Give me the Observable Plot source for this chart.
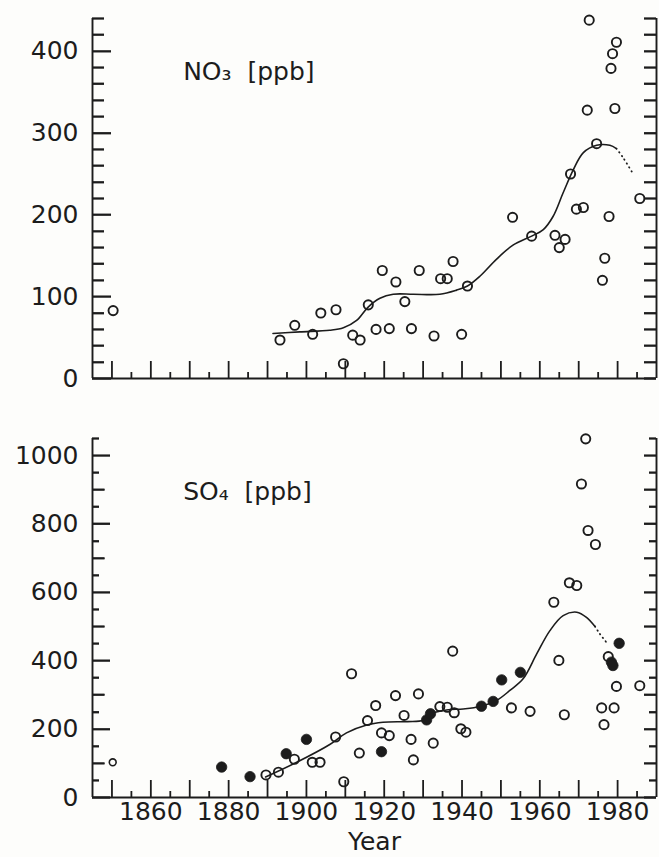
<!DOCTYPE html>
<html><head><meta charset="utf-8">
<script src="https://cdn.jsdelivr.net/npm/d3@7"></script>
<script src="https://cdn.jsdelivr.net/npm/@observablehq/plot@0.6"></script>
<style>
body{margin:0;background:#fdfdfb;}
#chart{width:659px;}
#chart svg{display:block;}
</style>
</head><body><div id="chart"></div>
<script>
// ---------- NO3 panel ----------
const no3Years  = [1850.3,1893.2,1897,1901.6,1903.7,1907.6,1909.5,1911.9,1913.8,1915.9,1917.9,1919.5,1921.3,1923,1925.3,1927,1929,1932.8,1934.5,1936.2,1937.7,1939.9,1941.4,1953,1957.9,1963.9,1965,1966.5,1967.9,1969.4,1971.2,1972.7,1972.2,1974.6,1976.1,1976.7,1977.8,1978.3,1978.7,1979.7,1979.3,1985.7];
const no3Values = [83,47,65,54,80,84,18,53,47,90,60,132,61,118,94,61,132,52,122,122,143,54,113,197,174,175,160,170,250,207,209,438,328,287,120,147,198,379,397,411,330,220];
const no3CurveYears  = [1891.4,1898.3,1906,1909.5,1912.9,1915.8,1918.9,1922.3,1927.5,1934.3,1938.6,1941.4,1944.6,1948.9,1953.1,1957.9,1960.9,1963.4,1966,1968.6,1971.2,1974.6,1978,1979.7];
const no3CurveValues = [55,57,59,62,71,87,98,103,103,103,108,113,125,146,163,174,182,198,227,255,276,285,285,281];
const no3DotYears  = [1979.7,1981.4,1984];
const no3DotValues = [281,270,250];
const no3TickLabels = [0,100,200,300,400];
const no3MinorTicks = [20,40,60,80,120,140,160,180,220,240,260,280,320,340,360,380,420,440];
const no3AllTicks   = [0,20,40,60,80,100,120,140,160,180,200,220,240,260,280,300,320,340,360,380,400,420,440];
const no3Title = ["NO\u2083  [ppb]"];

// ---------- SO4 panel ----------
const so4OpenYears  = [1889.6,1892.8,1896.9,1901.5,1903.5,1907.5,1909.6,1911.6,1913.6,1915.7,1917.8,1919.3,1921.3,1922.9,1925.1,1926.9,1927.5,1928.8,1932.6,1934.3,1936.2,1937.6,1938,1939.7,1941,1952.7,1957.5,1963.6,1964.9,1966.3,1967.6,1969.5,1970.7,1971.8,1972.4,1974.3,1975.9,1976.5,1977.6,1979.1,1979.7,1985.7];
const so4OpenValues = [66,74,112,103,103,177,46,362,130,225,269,189,181,298,240,170,110,303,159,266,264,428,248,201,191,262,252,571,401,242,628,620,917,1049,781,740,262,213,412,262,325,327];
const so4SmallYears  = [1850.2];
const so4SmallValues = [103];
const so4FilledYears  = [1878.2,1885.5,1894.8,1900,1919.3,1930.9,1931.9,1945,1948,1950.2,1955,1978.4,1978.8,1980.4];
const so4FilledValues = [89,61,128,170,134,227,245,267,281,344,366,396,386,451];
const so4CurveYears  = [1889.5,1897.5,1906,1910.3,1915.5,1919.7,1926,1930,1931.7,1936,1940.3,1944.6,1948.9,1952.3,1955.7,1959.2,1962.6,1966,1969.5,1972,1974.2];
const so4CurveValues = [60,103,155,189,212,220,222,226,243,256,259,266,284,313,347,420,488,532,542,527,500];
const so4DotYears  = [1974.2,1975.4,1977.6];
const so4DotValues = [500,479,447];
const so4TickLabels = [0,200,400,600,800,1000];
const so4MidTicks   = [100,300,500,700,900];
const so4MinorTicks = [50,150,250,350,450,550,650,750,850,950,1050];
const so4Title = ["SO\u2084  [ppb]"];

// ---------- shared x axis ----------
const xMajorTicks = [1850,1860,1870,1880,1890,1900,1910,1920,1930,1940,1950,1960,1970,1980];
const xMinorTicks = [1855,1865,1875,1885,1895,1905,1915,1925,1935,1945,1955,1965,1975,1985];
const xTickLabels = [1860,1880,1900,1920,1940,1960,1980];
const xDomain = [1845,1990];
const xTitle = ["Year"];

const ink = "#1c1c1c";
const W = 659, ML = 92, MR = 3;
const FW = W - ML - MR;           // frame width in px
const pts = (xs, ys) => xs.map((x, i) => ({x, y: ys[i]}));
const plain = d => String(d);
const plotStyle = {background: "transparent", color: ink, fontFamily: "DejaVu Sans, sans-serif", fontSize: "25px", overflow: "visible"};
const tk = {stroke: ink, strokeWidth: 1.8};

// inward ticks drawn as rules trimmed to a pixel length from the frame edge
const leftTicks   = (ticks, len) => Plot.ruleY(ticks, {insetRight: FW - len, ...tk});
const rightTicks  = (ticks, len) => Plot.ruleY(ticks, {insetLeft: FW - len, ...tk});
const bottomTicks = (ticks, len, FH) => Plot.ruleX(ticks, {insetTop: FH - len, ...tk});

function frameMarks(FH) {
  return [
    Plot.ruleX([xDomain[0], xDomain[1]], {stroke: ink, strokeWidth: 1.9}),
    Plot.ruleY([0], {stroke: ink, strokeWidth: 1.9}),
    bottomTicks(xMajorTicks, 17, FH),
    bottomTicks(xMinorTicks, 6, FH)
  ];
}

// ---------- top chart ----------
const H1 = 400, MT1 = 18, MB1 = 22;
const topChart = Plot.plot({
  width: W, height: H1,
  marginLeft: ML, marginRight: MR, marginTop: MT1, marginBottom: MB1,
  style: plotStyle,
  x: {domain: xDomain, axis: null},
  y: {domain: [0, 440]},
  marks: [
    ...frameMarks(H1 - MT1 - MB1),
    Plot.axisY({ticks: no3TickLabels, tickSize: 0, tickPadding: 14, tickFormat: plain, fontSize: 25, fill: ink, label: null}),
    leftTicks(no3TickLabels, 19),
    leftTicks(no3MinorTicks, 12),
    rightTicks(no3AllTicks, 12),
    Plot.line(pts(no3CurveYears, no3CurveValues), {x: "x", y: "y", curve: "catmull-rom", stroke: ink, strokeWidth: 1.6}),
    Plot.line(pts(no3DotYears, no3DotValues), {x: "x", y: "y", curve: "catmull-rom", stroke: ink, strokeWidth: 1.8, strokeDasharray: "0.5,4", strokeLinecap: "round"}),
    Plot.dot(pts(no3Years, no3Values), {x: "x", y: "y", r: 4.6, stroke: ink, strokeWidth: 1.9, fill: "none"}),
    Plot.text(no3Title, {x: () => 1868.3, y: () => 375, text: d => d, textAnchor: "start", fontSize: 25, fill: ink})
  ]
});

// ---------- bottom chart ----------
const H2 = 457, MT2 = 38, MB2 = 60;
const bottomChart = Plot.plot({
  width: W, height: H2,
  marginLeft: ML, marginRight: MR, marginTop: MT2, marginBottom: MB2,
  style: plotStyle,
  x: {domain: xDomain},
  y: {domain: [0, 1050]},
  marks: [
    ...frameMarks(H2 - MT2 - MB2),
    Plot.axisX({ticks: xTickLabels, tickSize: 0, tickPadding: 5, tickFormat: plain, fontSize: 25, fill: ink, label: null}),
    Plot.axisY({ticks: so4TickLabels, tickSize: 0, tickPadding: 14, tickFormat: plain, fontSize: 25, fill: ink, label: null}),
    leftTicks(so4TickLabels, 18),
    leftTicks(so4MidTicks, 12.5),
    leftTicks(so4MinorTicks, 7),
    rightTicks([...so4TickLabels, ...so4MidTicks], 12),
    rightTicks(so4MinorTicks, 7),
    Plot.line(pts(so4CurveYears, so4CurveValues), {x: "x", y: "y", curve: "catmull-rom", stroke: ink, strokeWidth: 1.6}),
    Plot.line(pts(so4DotYears, so4DotValues), {x: "x", y: "y", curve: "catmull-rom", stroke: ink, strokeWidth: 1.8, strokeDasharray: "0.5,4", strokeLinecap: "round"}),
    Plot.dot(pts(so4OpenYears, so4OpenValues), {x: "x", y: "y", r: 4.6, stroke: ink, strokeWidth: 1.9, fill: "none"}),
    Plot.dot(pts(so4SmallYears, so4SmallValues), {x: "x", y: "y", r: 3.4, stroke: ink, strokeWidth: 1.6, fill: "none"}),
    Plot.dot(pts(so4FilledYears, so4FilledValues), {x: "x", y: "y", r: 5.2, fill: ink, stroke: ink, strokeWidth: 0.8}),
    Plot.text(so4Title, {x: () => 1868.3, y: () => 893, text: d => d, textAnchor: "start", fontSize: 25, fill: ink}),
    Plot.text(xTitle, {frameAnchor: "bottom", dy: 52, text: d => d, fontSize: 25, fill: ink})
  ]
});

document.getElementById("chart").append(topChart, bottomChart);

// reinforce the inward y ticks using each chart's own y scale
function addYTicks(chart, specs) {
  try {
    const y = chart.scale("y");
    const g = d3.select(chart).append("g").attr("stroke", ink).attr("stroke-width", 1.8);
    for (const {ticks, len, side} of specs) {
      const x0 = side === "left" ? ML : W - MR;
      const x1 = side === "left" ? ML + len : W - MR - len;
      for (const v of ticks) {
        const py = Math.round(y.apply(v)) + 0.5;
        g.append("line").attr("x1", x0).attr("x2", x1).attr("y1", py).attr("y2", py);
      }
    }
  } catch (e) {}
}
addYTicks(topChart, [
  {ticks: no3TickLabels, len: 19, side: "left"},
  {ticks: no3MinorTicks, len: 12, side: "left"},
  {ticks: no3AllTicks, len: 12, side: "right"}
]);
addYTicks(bottomChart, [
  {ticks: so4TickLabels, len: 18, side: "left"},
  {ticks: so4MidTicks, len: 12.5, side: "left"},
  {ticks: so4MinorTicks, len: 7, side: "left"},
  {ticks: [...so4TickLabels, ...so4MidTicks], len: 12, side: "right"},
  {ticks: so4MinorTicks, len: 7, side: "right"}
]);
</script></body></html>
